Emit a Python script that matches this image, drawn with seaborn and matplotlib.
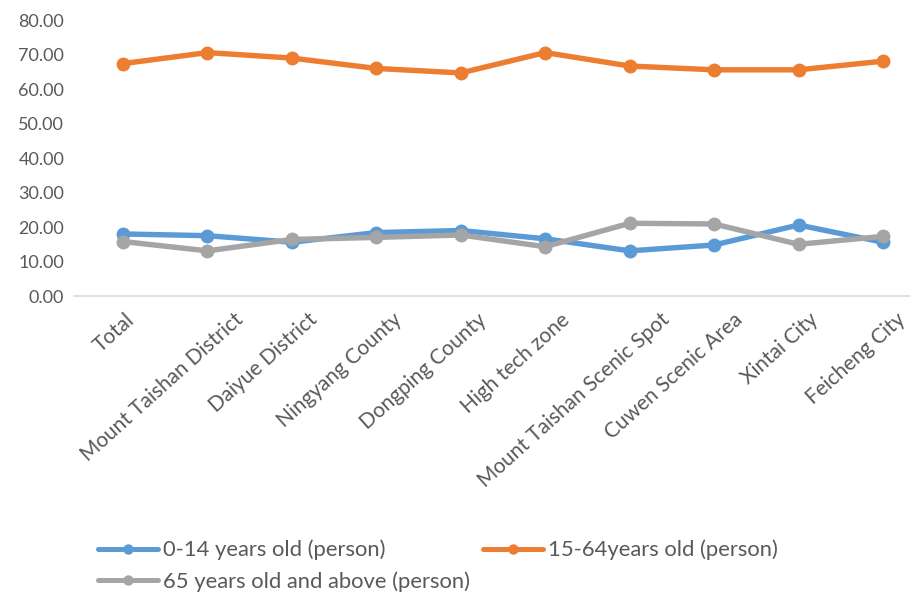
import pandas as pd
import matplotlib.pyplot as plt
import seaborn as sns
from matplotlib import transforms

areas = [
    "Total",
    "Mount Taishan District",
    "Daiyue District",
    "Ningyang County",
    "Dongping County",
    "High tech zone",
    "Mount Taishan Scenic Spot",
    "Cuwen Scenic Area",
    "Xintai City",
    "Feicheng City",
]
age_0_14 = [18.0, 17.5, 15.6, 18.4, 19.0, 16.6, 13.1, 14.8, 20.6, 15.6]
age_15_64 = [67.4, 70.6, 69.0, 66.0, 64.7, 70.6, 66.7, 65.6, 65.6, 68.1]
age_65_up = [15.8, 13.1, 16.4, 17.0, 17.7, 14.3, 21.1, 20.9, 15.0, 17.3]

series_names = [
    "0-14 years old (person)",
    "15-64years old (person)",
    "65 years old and above (person)",
]
colors = ["#5B9BD5", "#ED7D31", "#A5A5A5"]

df = pd.DataFrame({
    "pos": range(len(areas)),
    series_names[0]: age_0_14,
    series_names[1]: age_15_64,
    series_names[2]: age_65_up,
})
long = df.melt(id_vars="pos", var_name="group", value_name="value")

sns.set_theme(style="white")
plt.rcParams["font.family"] = ["Lato", "DejaVu Sans"]
text_color = "#595959"

fig = plt.figure(figsize=(9.1, 5.93), dpi=100)
ax = fig.add_axes([0.0813, 0.5008, 0.9187, 0.4652])

sns.lineplot(
    data=long,
    x="pos",
    y="value",
    hue="group",
    palette=colors,
    marker="o",
    markersize=10,
    markeredgewidth=0,
    linewidth=3.9,
    sort=False,
    legend=False,
    ax=ax,
)

ax.set_xlim(-0.58, 9.32)
ax.set_ylim(0, 80)
ax.set_yticks(range(0, 81, 10))
ax.set_yticklabels([f"{v:.2f}" for v in range(0, 81, 10)],
                   fontsize=13, color=text_color)
ax.set_xticks(range(len(areas)))
ax.set_xticklabels([])
ax.tick_params(axis="x", length=0)
ax.tick_params(axis="y", length=0, pad=7)

# category labels drawn as text so the small shifts stick;
# longer labels sit a bit further right, as in the original
base = ax.get_xaxis_transform()
for i, name in enumerate(areas):
    dx = 1.45 * len(name) + 1
    offset = transforms.ScaledTranslation(dx / 100, -21 / 100, fig.dpi_scale_trans)
    ax.text(i, 0, name, transform=base + offset, rotation=42,
            rotation_mode="anchor", ha="right", va="center",
            fontsize=15, color=text_color)

ax.set_xlabel("")
ax.set_ylabel("")
for side in ["top", "right", "left"]:
    ax.spines[side].set_visible(False)
ax.spines["bottom"].set_color("#D9D9D9")
ax.spines["bottom"].set_linewidth(1.2)
ax.grid(False)

handles = [
    plt.Line2D([], [], color=c, linewidth=3.6, marker="o", markersize=7.5,
               markeredgewidth=0)
    for c in colors
]
order = [0, 2, 1]
fig.legend(
    [handles[i] for i in order],
    [series_names[i] for i in order],
    loc="upper left",
    bbox_to_anchor=(0.0857, 0.123),
    bbox_transform=fig.transFigure,
    ncol=2,
    frameon=False,
    fontsize=15.8,
    handlelength=2.74,
    handletextpad=0.23,
    columnspacing=0.6,
    labelspacing=0.5,
    labelcolor=text_color,
)

fig.savefig("out.png", dpi=100)
